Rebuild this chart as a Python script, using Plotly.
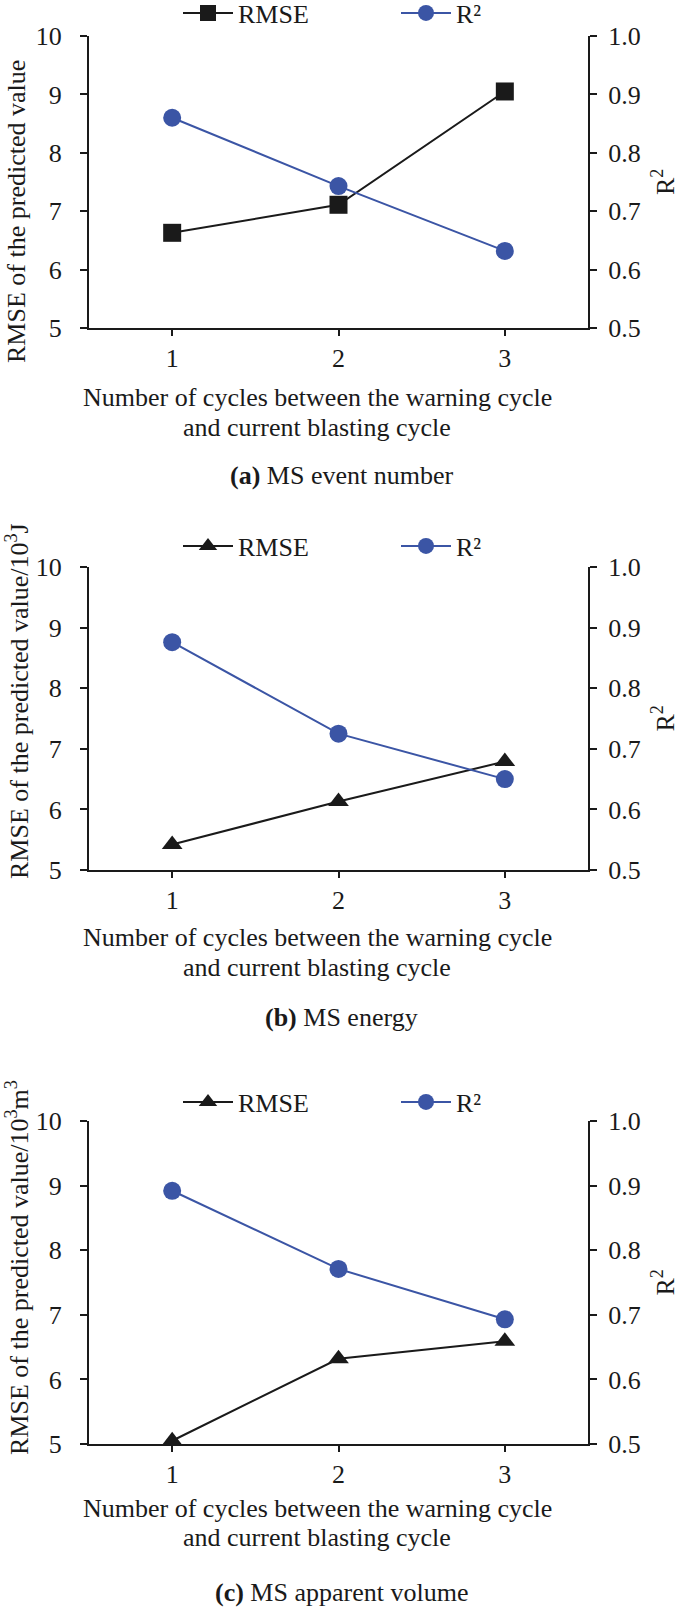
import plotly.graph_objects as go

W, H = 685, 1609

cycles = [1, 2, 3]
rmse_a = [6.63, 7.11, 9.05]
r2_a = [0.860, 0.743, 0.632]
rmse_b = [5.42, 6.13, 6.79]
r2_b = [0.876, 0.725, 0.650]
rmse_c = [5.05, 6.32, 6.59]
r2_c = [0.892, 0.771, 0.693]

left_ticks = [5, 6, 7, 8, 9, 10]
right_ticks = [0.5, 0.6, 0.7, 0.8, 0.9, 1.0]

xlabel_lines = ["Number of cycles between the warning cycle", "and current blasting cycle"]
ylabels = ["RMSE of the predicted value",
           "RMSE of the predicted value/10<sup>3</sup>J",
           "RMSE of the predicted value/10<sup>3</sup>m<sup>3</sup>"]
captions = ["<b>(a)</b> MS event number", "<b>(b)</b> MS energy",
            "<b>(c)</b> MS apparent volume"]

FONT = "Liberation Serif, Times New Roman, serif"
FS = 26
BLACK = "#1a1a1a"
BLUE = "#3b55a5"

# panel pixel geometry (top, bottom of plot area)
panels = [(36, 328), (567, 870), (1121, 1444)]
xl, xr = 89, 588
legend_y = [13, 546, 1102]
xtitle_y = [(398, 428), (937, 967), (1508, 1537)]
caption_y = [475, 1017, 1592]
ylab_y = [212, 701, 1268]

def py(p):
    return 1 - p / H

fig = go.Figure()
data = [(rmse_a, r2_a, "square"), (rmse_b, r2_b, "triangle-up"), (rmse_c, r2_c, "triangle-up")]

layout = dict(width=W, height=H, margin=dict(l=0, r=0, t=0, b=0, autoexpand=False),
              paper_bgcolor="white", plot_bgcolor="white",
              font=dict(family=FONT, size=FS, color=BLACK), showlegend=True)
annotations = []

def txt(text, x, y, angle=0):
    return dict(text=text, x=x / W, y=py(y), xref="paper", yref="paper",
                showarrow=False, xanchor="center", yanchor="middle", textangle=angle,
                font=dict(size=FS, family=FONT, color=BLACK))

for i, (rm, r2, sym) in enumerate(data):
    xn = "x" if i == 0 else f"x{i+1}"
    yl = f"y{2*i+1}" if i > 0 else "y"
    yr = f"y{2*i+2}"
    lg = "legend" if i == 0 else f"legend{i+1}"
    fig.add_trace(go.Scatter(x=cycles, y=rm, xaxis=xn, yaxis=yl, name="RMSE",
                             mode="lines+markers", legend=lg,
                             line=dict(color=BLACK, width=2),
                             marker=dict(symbol=sym, size=18, color=BLACK)))
    fig.add_trace(go.Scatter(x=cycles, y=r2, xaxis=xn, yaxis=yr, name="R²",
                             mode="lines+markers", legend=lg,
                             line=dict(color=BLUE, width=2),
                             marker=dict(symbol="circle", size=18, color=BLUE)))
    top, bot = panels[i]
    dom = [py(bot), py(top)]
    xkey = "xaxis" if i == 0 else f"xaxis{i+1}"
    ylkey = "yaxis" if i == 0 else f"yaxis{2*i+1}"
    yrkey = f"yaxis{2*i+2}"
    layout[xkey] = dict(domain=[xl / W, xr / W], anchor=yl, range=[0.5, 3.5],
                        tickvals=cycles, ticks="outside", ticklen=6, tickwidth=2,
                        tickcolor=BLACK, showline=True, linecolor=BLACK, linewidth=2,
                        showgrid=False, zeroline=False, ticklabelstandoff=0,
                        tickfont=dict(size=FS, family=FONT, color=BLACK))
    layout[ylkey] = dict(domain=dom, anchor=xn, range=[5, 10], tickvals=left_ticks,
                         ticks="outside", ticklen=7, tickwidth=2, tickcolor=BLACK,
                         showline=True, linecolor=BLACK, linewidth=2, showgrid=False,
                         zeroline=False, ticklabelstandoff=13,
                         tickfont=dict(size=FS, family=FONT, color=BLACK))
    layout[yrkey] = dict(domain=dom, anchor=xn, overlaying=yl, side="right",
                         range=[0.5, 1.0], tickvals=right_ticks, tickformat=".1f",
                         ticks="outside", ticklen=7, tickwidth=2, tickcolor=BLACK,
                         showline=True, linecolor=BLACK, linewidth=2, showgrid=False,
                         zeroline=False, ticklabelstandoff=6,
                         tickfont=dict(size=FS, family=FONT, color=BLACK))
    layout[lg] = dict(orientation="h", x=178 / W, y=py(legend_y[i]), xanchor="left",
                      yanchor="middle", font=dict(size=FS, family=FONT, color=BLACK),
                      entrywidth=153, entrywidthmode="pixels", itemwidth=50,
                      bgcolor="rgba(0,0,0,0)", borderwidth=0)
    annotations.append(txt(xlabel_lines[0], 317, xtitle_y[i][0]))
    annotations.append(txt(xlabel_lines[1], 317, xtitle_y[i][1]))
    annotations.append(txt(captions[i], 341, caption_y[i]))
    annotations.append(txt(ylabels[i], 17, ylab_y[i], -90))
    annotations.append(txt("R<sup>2</sup>", 664, (top + bot) / 2, -90))

layout["annotations"] = annotations
fig.update_layout(**layout)
fig.write_html("out.html", config={"displayModeBar": False},
               post_script="document.body.style.margin='0';document.body.style.overflow='hidden';")
